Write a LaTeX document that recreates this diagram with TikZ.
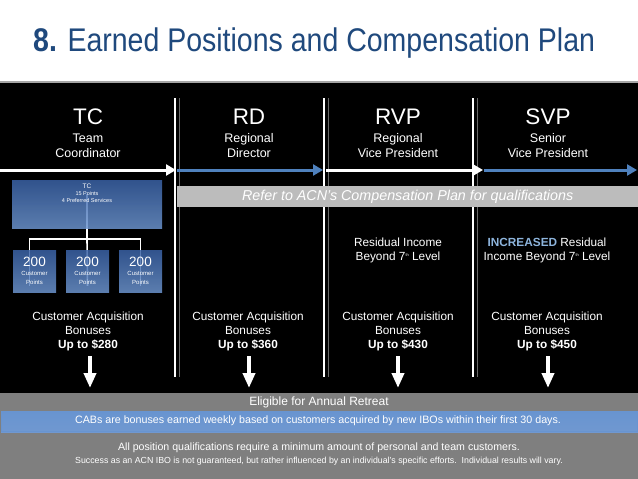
\documentclass[tikz,border=0pt]{standalone}
\usepackage{fontspec}
\setmainfont{Liberation Sans}
\usetikzlibrary{arrows.meta,backgrounds}

\definecolor{titleblue}{RGB}{31,73,125}
\definecolor{accblue}{RGB}{79,129,189}
\definecolor{refgray}{RGB}{188,188,188}
\definecolor{bandgray}{RGB}{127,127,127}
\definecolor{incblue}{RGB}{141,180,220}
\definecolor{boxtop}{RGB}{58,98,166}
\definecolor{boxbot}{RGB}{108,148,206}
\definecolor{cabtop}{RGB}{104,148,208}
\definecolor{cabmid}{RGB}{62,108,178}
\definecolor{cabbot}{RGB}{112,152,208}

\tikzset{
  txt/.style={text=white,align=center,inner sep=1pt},
  hdr/.style={txt,font=\fontsize{22.5}{25}\selectfont},
  sub/.style={txt,font=\fontsize{12.5}{15}\selectfont},
  body/.style={txt,font=\fontsize{11.8}{14}\selectfont},
  divider/.style={white,line width=1.3pt},
  divshade/.style={black!60,line width=1.3pt},
  bandarrow/.style={line width=3pt,-{Triangle[length=10pt,width=11pt]}},
  downarrow/.style={white,line width=4pt,-{Triangle[length=15pt,width=12pt]}},
  bluebox/.style={top color=boxtop,bottom color=boxbot,fill opacity=0.85,text opacity=1,
    inner sep=0pt,text=white,align=center},
  tree/.style={white,line width=1.6pt},
}

\begin{document}
\begin{tikzpicture}[x=1pt,y=-1pt]
\useasboundingbox (0,0) rectangle (638,479);

% title
\node[anchor=base west,text=titleblue,inner sep=0pt,font=\fontsize{28.5}{30}\selectfont] (title) at (33,52)
  {\scalebox{1}[1.15]{{\bfseries 8.} Earned Positions and Compensation Plan}};

% dividers between the positions
\foreach \x in {175,324,473} {
  \draw[divider] (\x,98) -- (\x,377);
  \draw[divshade] (\x+4.5,98) -- (\x+4.5,377);
}

% position headers
\node[hdr] (hdTC) at (88,117) {TC};
\node[hdr] (hdRD) at (249,117) {RD};
\node[hdr] (hdRVP) at (398,117) {RVP};
\node[hdr] (hdSVP) at (548,117) {SVP};
\node[sub] (subTC) at (88,145.5) {Team\\Coordinator};
\node[sub] (subRD) at (249,145.5) {Regional\\Director};
\node[sub] (subRVP) at (398,145.5) {Regional\\Vice President};
\node[sub] (subSVP) at (548,145.5) {Senior\\Vice President};

% progression arrows
\coordinate (p0) at (0,170);
\coordinate (p1) at (176,170);
\coordinate (p2) at (177,170);
\coordinate (p3) at (323,170);
\coordinate (p4) at (326,170);
\coordinate (p5) at (483,170);
\coordinate (p6) at (484,170);
\coordinate (p7) at (637,170);
\draw[bandarrow,white] (p0) -- (p1);
\draw[bandarrow,accblue] (p2) -- (p3);
\draw[bandarrow,white] (p4) -- (p5);
\draw[bandarrow,accblue] (p6) -- (p7);

% qualification bar
\node[fill=refgray,anchor=north west,minimum width=461pt,minimum height=21pt,inner sep=0pt,
  text=white,font=\fontsize{14.3}{16}\selectfont\itshape] (refer) at (177,186)
  {Refer to ACN's Compensation Plan for qualifications};

% TC structure
\node[bluebox,minimum width=150pt,minimum height=48pt] (tcBox) at (87,204.5) {};
\node[txt,font=\fontsize{5.5}{7}\selectfont] (tcInfo) at (87,193)
  {{\fontsize{6.5}{7}\selectfont TC}\\15 Points\\4 Preferred Services};
\node[bluebox,minimum width=43pt,minimum height=42pt,font=\fontsize{6}{9}\selectfont] (cp1) at (34.5,271)
  {{\fontsize{13.5}{14}\selectfont 200}\\Customer\\Points};
\node[bluebox,minimum width=43pt,minimum height=42pt,font=\fontsize{6}{9}\selectfont] (cp2) at (87.5,271)
  {{\fontsize{13.5}{14}\selectfont 200}\\Customer\\Points};
\node[bluebox,minimum width=43pt,minimum height=42pt,font=\fontsize{6}{9}\selectfont] (cp3) at (140.5,271)
  {{\fontsize{13.5}{14}\selectfont 200}\\Customer\\Points};

% residual income
\node[body] (resRVP) at (398,250) {Residual Income\\Beyond 7\raisebox{3.5pt}{\fontsize{4}{4}\selectfont th} Level};
\node[body] (resSVP) at (547,250)
  {{\bfseries\color{incblue}INCREASED} Residual\\Income Beyond 7\raisebox{3.5pt}{\fontsize{4}{4}\selectfont th} Level};

% customer acquisition bonuses
\node[body] (capTC) at (88,331) {Customer Acquisition\\Bonuses\\\textbf{Up to \$280}};
\node[body] (capRD) at (248,331) {Customer Acquisition\\Bonuses\\\textbf{Up to \$360}};
\node[body] (capRVP) at (398,331) {Customer Acquisition\\Bonuses\\\textbf{Up to \$430}};
\node[body] (capSVP) at (547,331) {Customer Acquisition\\Bonuses\\\textbf{Up to \$450}};

% bottom band texts
\node[txt,font=\fontsize{12}{14}\selectfont] (retreat) at (319,402) {Eligible for Annual Retreat};
\node[txt,font=\fontsize{10.7}{13}\selectfont] (cabs) at (318,421)
  {CABs are bonuses earned weekly based on customers acquired by new IBOs within their first 30 days.};
\node[txt,font=\fontsize{10.6}{12}\selectfont] (allpos) at (319,448)
  {All position qualifications require a minimum amount of personal and team customers.};
\node[txt,font=\fontsize{8.8}{9}\selectfont] (success) at (319,461)
  {Success as an ACN IBO is not guaranteed, but rather influenced by an individual's specific efforts.\ \ Individual results will vary.};

% bonus arrows
\foreach \n/\x in {TC/90,RD/249,RVP/398,SVP/548} {
  \coordinate (top\n) at (\x,356);
  \coordinate (tip\n) at (\x,388);
  \draw[downarrow] (top\n) -- (tip\n);
}

\begin{scope}[on background layer]
\fill[white] (0,0) rectangle (638,83);
\fill[black] (0,83) rectangle (638,393);
\draw[gray!70,line width=1.5pt] (0,82) -- (638,82);
\fill[bandgray] (0,393) rectangle (638,479);
\shade[top color=cabtop,middle color=cabmid,bottom color=cabbot] (1,411) rectangle (638,432);
\draw[cabtop,line width=0.8pt] (1.4,411.4) rectangle (637.6,431.6);
% tree under the boxes
\draw[tree] ([yshift=-14pt]tcBox.north) -- (tcBox.south) -- ++(0,10) coordinate (fork);
\draw[tree] (fork) -| ([xshift=-5pt,yshift=-36pt]cp1.north);
\draw[tree] (fork) -- ([yshift=-36pt]cp2.north);
\draw[tree] (fork) -| ([yshift=-36pt]cp3.north);
\end{scope}
\end{tikzpicture}
\end{document}
